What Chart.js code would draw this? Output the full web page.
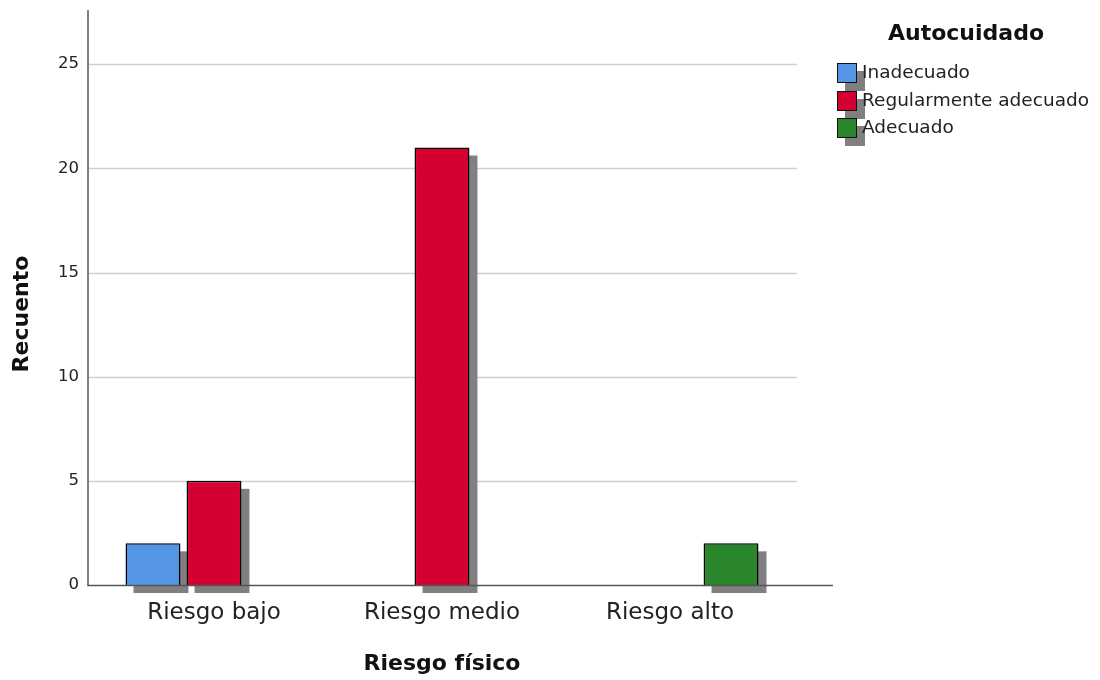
<!DOCTYPE html>
<html>
<head>
<meta charset="utf-8">
<script src="https://cdn.jsdelivr.net/npm/chart.js@4"></script>
<style>
  body { margin: 0; background: #fff; }
  #wrap { position: relative; width: 1100px; height: 680px; }
  #legend { position: absolute; left: 836px; top: 16px; font-family: "DejaVu Sans", sans-serif; color: #222; }
  #legend .title { position: absolute; left: 40px; top: 4px; width: 180px; text-align: center; font-weight: bold; font-size: 22px; white-space: nowrap; color: #111; }
  #legend .item { position: absolute; left: 0; height: 20px; white-space: nowrap; font-size: 18.5px; line-height: 20px; }
  #legend .box { position: absolute; left: 1px; top: 0; width: 18px; height: 18px; border: 1px solid #111; box-shadow: 8px 8px 0 #808080; }
  #legend .lbl { position: absolute; left: 26px; top: -1px; }
</style>
</head>
<body>
<div id="wrap">
  <canvas id="myChart" width="1100" height="680"></canvas>
  <div id="legend"></div>
</div>
<script>
// categories and series (counts)
var categories = ['Riesgo bajo', 'Riesgo medio', 'Riesgo alto'];
var seriesNames = ['Inadecuado', 'Regularmente adecuado', 'Adecuado'];
var inadecuado = [2, 0, 0];
var regularmente = [5, 21, 0];
var adecuado = [0, 0, 2];
var seriesColors = ['#5595e5', '#d50032', '#2a862a'];
var yTicks = [0, 5, 10, 15, 20, 25];

// html legend
var legend = document.getElementById('legend');
legend.innerHTML = '<div class="title">Autocuidado</div>';
seriesNames.forEach(function (name, i) {
  var item = document.createElement('div');
  item.className = 'item';
  item.style.top = (47 + i * 27.5) + 'px';
  item.innerHTML = '<div class="box" style="background:' + seriesColors[i] + '"></div><span class="lbl">' + name + '</span>';
  legend.appendChild(item);
});

// gridlines + axis lines like SPSS
var axesPlugin = {
  id: 'spssAxes',
  beforeDatasetsDraw: function (chart) {
    var c = chart.ctx, y = chart.scales.y;
    c.save();
    c.strokeStyle = '#cfcfcf';
    c.lineWidth = 1.5;
    yTicks.forEach(function (t) {
      if (t === 0) return;
      var py = Math.round(y.getPixelForValue(t)) + 0.5;
      c.beginPath(); c.moveTo(89, py); c.lineTo(797, py); c.stroke();
    });
    // bar shadows
    c.fillStyle = '#808080';
    chart.data.datasets.forEach(function (ds, i) {
      chart.getDatasetMeta(i).data.forEach(function (el, j) {
        if (!ds.data[j]) return;
        var p = el.getProps(['x', 'y', 'base', 'width'], true);
        c.fillRect(p.x - p.width / 2 + 8, p.y + 8, p.width, p.base - p.y);
      });
    });
    c.restore();
  },
  afterDatasetsDraw: function (chart) {
    var c = chart.ctx, y = chart.scales.y;
    var base = Math.round(y.getPixelForValue(0)) + 0.5;
    c.save();
    c.strokeStyle = '#555';
    c.lineWidth = 1.5;
    c.beginPath(); c.moveTo(88, 10); c.lineTo(88, base); c.lineTo(833, base); c.stroke();
    // y axis title
    c.fillStyle = '#111';
    c.font = 'bold 22px "DejaVu Sans"';
    c.textAlign = 'center';
    c.textBaseline = 'middle';
    c.translate(22, 314);
    c.rotate(-Math.PI / 2);
    c.fillText('Recuento', 0, 0);
    c.restore();
  }
};

var ctx = document.getElementById('myChart').getContext('2d');
var myChart = new Chart(ctx, {
  type: 'bar',
  data: {
    labels: categories,
    datasets: [inadecuado, regularmente, adecuado].map(function (vals, i) {
      return {
        label: seriesNames[i],
        data: vals,
        backgroundColor: seriesColors[i],
        borderColor: '#000',
        borderWidth: function (c) { return c.raw > 0 ? 1.5 : 0; },
        categoryPercentage: 0.803,
        barPercentage: 0.9
      };
    })
  },
  options: {
    responsive: false,
    animation: false,
    layout: { padding: { top: 10, right: 316, bottom: 0, left: 0 } },
    plugins: { legend: { display: false }, tooltip: { enabled: false } },
    scales: {
      y: {
        min: 0,
        max: 27.6,
        afterFit: function (s) { s.width = 100; s.paddingTop = 0; s.paddingBottom = 0; },
        afterBuildTicks: function (s) { s.ticks = yTicks.map(function (v) { return { value: v }; }); },
        grid: { display: false, drawTicks: false },
        border: { display: false },
        ticks: { color: '#222', padding: 21, font: { family: 'DejaVu Sans', size: 16.5 } }
      },
      x: {
        afterFit: function (s) { s.height = 95; s.paddingLeft = 0; s.paddingRight = 0; },
        grid: { display: false, drawTicks: false },
        border: { display: false },
        ticks: { color: '#222', padding: 14, font: { family: 'DejaVu Sans', size: 23 } },
        title: {
          display: true,
          text: 'Riesgo físico',
          color: '#111',
          font: { family: 'DejaVu Sans', size: 22, weight: 'bold' },
          padding: { top: 0, bottom: 3 }
        }
      }
    }
  },
  plugins: [axesPlugin]
});
</script>
</body>
</html>
